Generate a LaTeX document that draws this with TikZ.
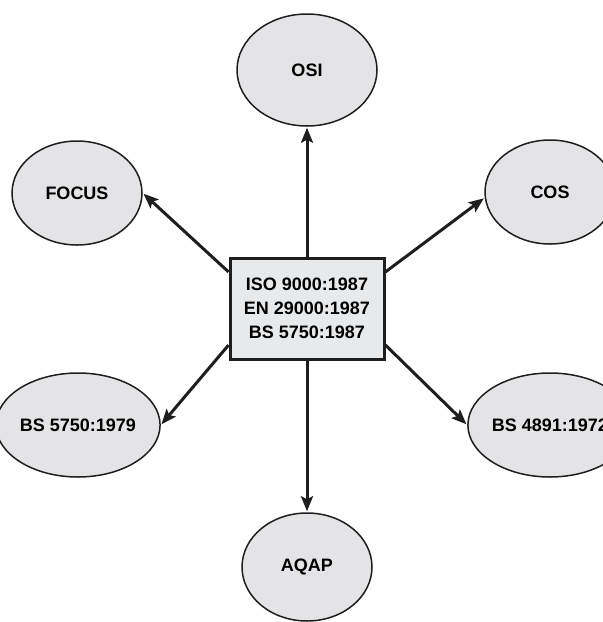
\documentclass[tikz,border=0pt]{standalone}
\usepackage{fontspec}
\setmainfont{Liberation Sans}
\usetikzlibrary{arrows.meta,shapes.geometric}
\definecolor{bubblefill}{RGB}{228,228,231}
\definecolor{boxfill}{RGB}{232,233,235}
\definecolor{inkline}{RGB}{30,30,30}
\begin{document}
\begin{tikzpicture}[x=1pt,y=-1pt,
  label font/.style={font=\fontsize{18}{24}\selectfont\bfseries},
  bubble/.style={ellipse, draw=inkline, line width=1.5pt, fill=bubblefill,
    minimum width=130pt, minimum height=104pt, inner sep=0pt, label font},
  hub/.style={rectangle, draw=inkline, line width=3pt, fill=boxfill,
    minimum width=154pt, minimum height=101pt, align=center, label font},
  link/.style={draw=inkline, line width=3pt,
    -{Stealth[length=15pt,width=12pt,inset=3pt]}, shorten >=1pt}]
  \useasboundingbox (0,0) rectangle (603,622);
  \clip (0,0) rectangle (603,622);

  % central standard
  \node[hub] (hub) at (307,308.5)
    {ISO 9000:1987\\EN 29000:1987\\BS 5750:1987};

  % related standards around it
  \node[bubble, minimum width=140pt, minimum height=112pt] (osi) at (307,70) {OSI};
  \node[bubble] (focus) at (77,193) {FOCUS};
  \node[bubble] (cos) at (550,192) {COS};
  \node[bubble] (bs5750) at (78,425) {BS 5750:1979};
  \node[bubble] (bs4891) at (550,425) {BS 4891:1972};
  \node[bubble, minimum height=108pt] (aqap) at (307,567) {AQAP};

  % connectors
  \draw[link] (hub.north) -- (osi.south);
  \draw[link] (hub.south) -- (aqap.north);
  \draw[link] (hub.155) -- (focus.east);
  \draw[link] (hub.25) -- (cos.185);
  \draw[link] (hub.205) -- (bs5750.east);
  \draw[link] (hub.335) -- (bs4891.west);
\end{tikzpicture}
\end{document}
